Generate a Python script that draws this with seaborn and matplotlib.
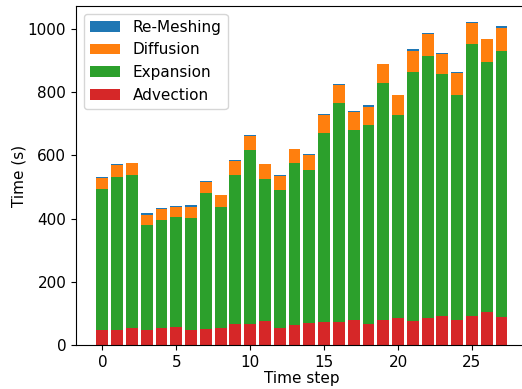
import numpy as np
import pandas as pd
import matplotlib
matplotlib.use('Agg')
import matplotlib.pyplot as plt
import seaborn as sns

steps = list(range(28))
advection = [47, 46, 54, 46, 54, 56, 46, 50, 54, 66, 66, 75, 54, 62, 69, 73, 73, 79, 66, 79, 86, 75, 86, 92, 79, 92, 105, 88]
expansion = [446, 485, 484, 333, 341, 348, 355, 430, 382, 471, 550, 450, 436, 513, 484, 597, 692, 601, 629, 749, 641, 788, 828, 765, 711, 860, 790, 842]
diffusion = [35, 39, 37, 32, 34, 32, 35, 35, 38, 44, 45, 47, 45, 45, 48, 57, 57, 56, 57, 60, 63, 67, 69, 63, 70, 66, 73, 72]
remeshing = [3, 1, 1, 7, 4, 3, 6, 3, 1, 3, 3, 1, 3, 1, 3, 3, 3, 3, 6, 1, 1, 6, 4, 3, 3, 3, 1, 7]

df = pd.DataFrame({
    'step': steps,
    'Advection': advection,
    'Expansion': expansion,
    'Diffusion': diffusion,
    'Re-Meshing': remeshing,
})
# cumulative tops for the overlapping stacked-bar trick
df['adv_top'] = df['Advection']
df['exp_top'] = df['adv_top'] + df['Expansion']
df['diff_top'] = df['exp_top'] + df['Diffusion']
df['total'] = df['diff_top'] + df['Re-Meshing']

plt.rcParams['font.family'] = ['DejaVu Sans']
plt.rcParams['font.size'] = 11

fig = plt.figure(figsize=(5.22, 3.89), dpi=100)
ax = fig.add_axes([76 / 522, 1 - 345 / 389, (528 - 76) / 522, (345 - 6) / 389])

layers = [('total', 'Re-Meshing', '#1f77b4'),
          ('diff_top', 'Diffusion', '#ff7f0e'),
          ('exp_top', 'Expansion', '#2ca02c'),
          ('adv_top', 'Advection', '#d62728')]
for col, label, color in layers:
    sns.barplot(data=df, x='step', y=col, color=color, label=label,
                native_scale=True, width=0.8, saturation=1, ax=ax)

ax.set_xlim(-1.78, 28.79)
ax.set_ylim(0, 1072)
ax.set_xticks([0, 5, 10, 15, 20, 25])
ax.set_yticks([0, 200, 400, 600, 800, 1000])
ax.set_xlabel('Time step', labelpad=1)
ax.set_ylabel('Time (s)', labelpad=1)
ax.legend(loc='upper left')

fig.savefig('out.png', dpi=100)
